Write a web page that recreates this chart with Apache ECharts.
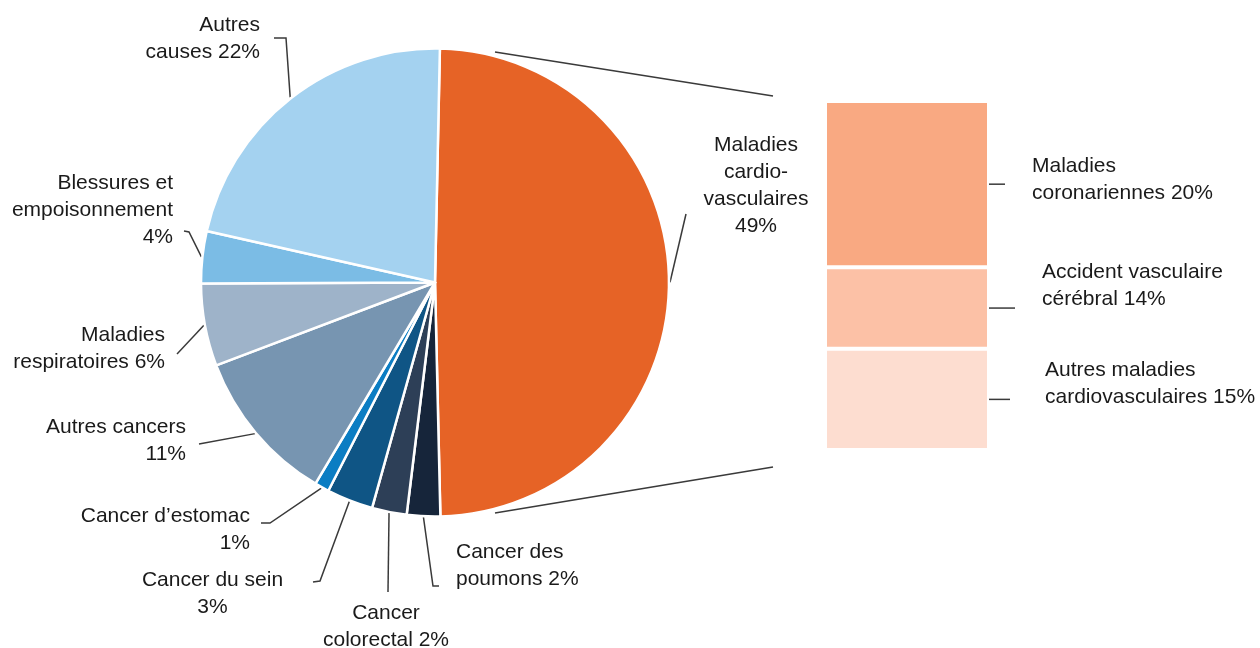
<!DOCTYPE html>
<html>
<head>
<meta charset="utf-8">
<script src="https://cdn.jsdelivr.net/npm/echarts@6/dist/echarts.min.js"></script>
<style>html,body{margin:0;padding:0;background:#fff}#c{width:1260px;height:648px}</style>
</head>
<body>
<div id="c"></div>
<script>
// ---- data ----
const causeLabels = ['Maladies\ncardio-\nvasculaires\n49%', 'Cancer des\npoumons 2%', 'Cancer\ncolorectal 2%', 'Cancer du sein\n3%', 'Cancer d’estomac\n1%', 'Autres cancers\n11%', 'Maladies\nrespiratoires 6%', 'Blessures et\nempoisonnement\n4%', 'Autres\ncauses 22%'];
const causeShares = [49.3, 2.3, 2.4, 3.2, 1.0, 10.7, 5.7, 3.6, 21.8];
const cvdLabels = ['Maladies\ncoronariennes 20%', 'Accident vasculaire\ncérébral 14%', 'Autres maladies\ncardiovasculaires 15%'];
const cvdShares = [23.5, 11.5, 14.3];

// ---- style / layout ----
const FONT = '"Liberation Sans", Arial, sans-serif';
const TXT = '#1a1a1a';
const LINE = '#3a3a3a';
const PIE = { cx: 435, cy: 282.5, r: 234, start: 88.8 };
const pieColors = ['#E66326', '#16253A', '#2D3F57', '#0F5585', '#0B7DC3', '#7795B1', '#9EB3C9', '#7BBCE5', '#A4D2F0'];
const barColors = ['#F9A982', '#FCC1A6', '#FDDDD0'];
const GRID = { left: 825, top: 101, width: 164, height: 349 };
// label anchor + leader points (label side), in drawing order from pie edge outward
const pieLabelPos = [
  { x: 756, y: 185.5, align: 'center', pts: [[686, 214], [686, 214]] },
  { x: 456, y: 566, align: 'left', pts: [[433, 586], [439, 586]] },
  { x: 386, y: 626.5, align: 'center', pts: [[388, 592], [388, 592]] },
  { x: 212.5, y: 593.5, align: 'center', pts: [[320, 581], [313, 582]] },
  { x: 250, y: 529.5, align: 'right', pts: [[270, 523], [261, 523]] },
  { x: 186, y: 441, align: 'right', pts: [[199, 444], [199, 444]] },
  { x: 165, y: 348.5, align: 'right', pts: [[177, 354], [177, 354]] },
  { x: 173, y: 210, align: 'right', pts: [[189, 232], [184, 231]] },
  { x: 260, y: 39, align: 'right', pts: [[286, 38], [274, 38]] }
];
const barLabelPos = [{ x: 1032, y: 179.5 }, { x: 1042, y: 285.5 }, { x: 1045, y: 384 }];
const barLeaderLen = [16, 26, 21];

const total = causeShares.reduce((a, b) => a + b, 0);
let acc = 0;
const midAngles = causeShares.map(v => { const m = (90 - PIE.start) + (acc + v / 2) / total * 360; acc += v; return m; });
function edge(i) {
  const a = midAngles[i] * Math.PI / 180;
  return [PIE.cx + (PIE.r + 1) * Math.sin(a), PIE.cy - (PIE.r + 1) * Math.cos(a)];
}

const chart = echarts.init(document.getElementById('c'), null, { renderer: 'canvas' });
const labelStyle = { fontSize: 21, lineHeight: 27, color: TXT, fontFamily: FONT };

const series = [{
  type: 'pie',
  center: [PIE.cx, PIE.cy],
  radius: PIE.r,
  startAngle: PIE.start,
  clockwise: true,
  avoidLabelOverlap: false,
  silent: true,
  animation: false,
  data: causeShares.map((v, i) => ({ name: causeLabels[i], value: v, itemStyle: { color: pieColors[i] } })),
  itemStyle: { borderColor: '#fff', borderWidth: 2.5 },
  label: Object.assign({ show: true, position: 'outside', formatter: p => causeLabels[p.dataIndex] }, labelStyle),
  labelLine: { show: true, length: 10, length2: 10, smooth: false, lineStyle: { color: LINE, width: 1.5 } },
  labelLayout: function (p) {
    const L = pieLabelPos[p.dataIndex];
    return { x: L.x, y: L.y, align: L.align, verticalAlign: 'middle', labelLinePoints: [edge(p.dataIndex)].concat(L.pts) };
  }
}];
cvdShares.forEach((v, i) => {
  series.push({
    type: 'bar',
    stack: 'cv',
    barWidth: '100%',
    silent: true,
    animation: false,
    data: [v],
    itemStyle: { color: barColors[i], borderColor: '#fff', borderWidth: 2 },
    label: Object.assign({ show: true, position: 'right', formatter: cvdLabels[i] }, labelStyle),
    labelLayout: function () {
      return { x: barLabelPos[i].x, y: barLabelPos[i].y, align: 'left', verticalAlign: 'middle' };
    }
  });
});

chart.setOption({
  animation: false,
  backgroundColor: '#fff',
  grid: { left: GRID.left, top: GRID.top, width: GRID.width, height: GRID.height },
  xAxis: { type: 'category', data: ['cv'], show: false },
  yAxis: { type: 'value', min: 0, max: cvdShares.reduce((a, b) => a + b, 0), inverse: true, show: false },
  series: series
});

// leader lines of the bar segments + connector lines pie -> bar
const graphics = [
  { type: 'line', shape: { x1: 495, y1: 52, x2: 773, y2: 96 }, style: { stroke: LINE, lineWidth: 1.5 }, silent: true },
  { type: 'line', shape: { x1: 495, y1: 513, x2: 773, y2: 467 }, style: { stroke: LINE, lineWidth: 1.5 }, silent: true }
];
let cum = 0;
cvdShares.forEach((v, i) => {
  const mid = cum + v / 2; cum += v;
  const py = chart.convertToPixel({ xAxisIndex: 0, yAxisIndex: 0 }, ['cv', mid])[1];
  const x0 = GRID.left + GRID.width;
  graphics.push({ type: 'line', shape: { x1: x0, y1: py, x2: x0 + barLeaderLen[i], y2: py }, style: { stroke: LINE, lineWidth: 1.5 }, silent: true });
});
chart.setOption({ graphic: graphics });
</script>
</body>
</html>
